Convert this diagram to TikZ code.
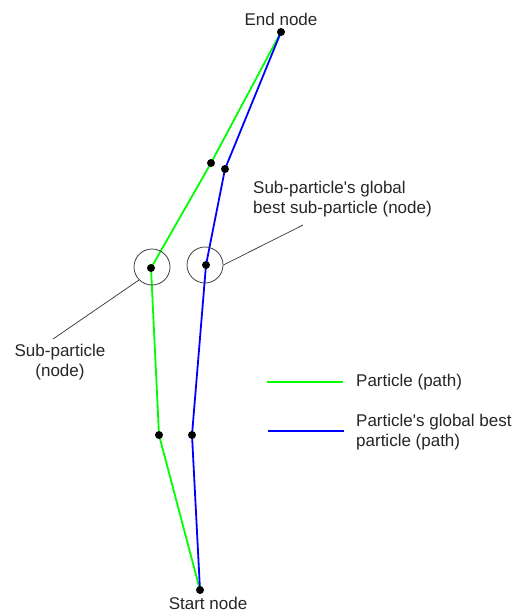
\documentclass[tikz,border=0pt]{standalone}
\usepackage{fontspec}
\setmainfont{Liberation Sans}
\begin{document}
\begin{tikzpicture}[x=1bp,y=-1bp,
  dot/.style={circle,fill=black,inner sep=0pt,minimum size=8bp},
  ring/.style={circle,draw=black!75,line width=0.8bp,inner sep=0pt,minimum size=36bp},
  gpath/.style={draw={rgb,255:red,0;green,255;blue,0},line width=1.8bp},
  bpath/.style={draw={rgb,255:red,0;green,0;blue,255},line width=1.8bp},
  leader/.style={draw=black!80,line width=0.7bp},
  lbl/.style={font=\fontsize{17bp}{20bp}\selectfont,inner sep=0pt,text=black!85}
]
\useasboundingbox (0,0) rectangle (521,614);
% path points
\coordinate (E) at (281,32);
\coordinate (G1) at (211,163);
\coordinate (G2) at (151,268);
\coordinate (G3) at (159,435);
\coordinate (B1) at (225,169);
\coordinate (B2) at (206,265);
\coordinate (B3) at (192,435);
\coordinate (S) at (200,590);
% paths
\draw[gpath] (E) -- (G1) -- (G2) -- (G3) -- (S);
\draw[bpath] (E) -- (B1) -- (B2) -- (B3) -- (S);
% dots
\node[dot] (end) at (E) {};
\node[dot] (start) at (S) {};
\node[dot] (g1) at (G1) {};
\node[dot] (g2) at (G2) {};
\node[dot] (g3) at (G3) {};
\node[dot] (b1) at (B1) {};
\node[dot] (b2) at (B2) {};
\node[dot] (b3) at (B3) {};
% rings
\node[ring] (r1) at (152,267) {};
\node[ring] (r2) at (205,265) {};
% labels
\node[lbl] (endlbl) at (281,19) {End node};
\node[lbl] (startlbl) at (208,603) {Start node};
\node[lbl,align=left,anchor=west] (sglbl) at (253,199) {Sub-particle\textquotesingle s global\\best sub-particle (node)};
\node[lbl,align=center] (splbl) at (60,362) {Sub-particle\\(node)};
\coordinate (sgend) at (303,225);
\coordinate (spend) at (53,339);
\draw[leader] (r2.east) -- (sgend);
\draw[leader] (r1.225) -- (spend);
% legend
\coordinate (l1a) at (267,382);
\coordinate (l1b) at (343,382);
\coordinate (l2a) at (268,431);
\coordinate (l2b) at (344,431);
\draw[gpath] (l1a) -- (l1b);
\draw[bpath] (l2a) -- (l2b);
\node[lbl,anchor=west] (leg1) at (356,382) {Particle (path)};
\node[lbl,anchor=west,align=left] (leg2) at (356,432) {Particle\textquotesingle s global best\\particle (path)};
\end{tikzpicture}
\end{document}
